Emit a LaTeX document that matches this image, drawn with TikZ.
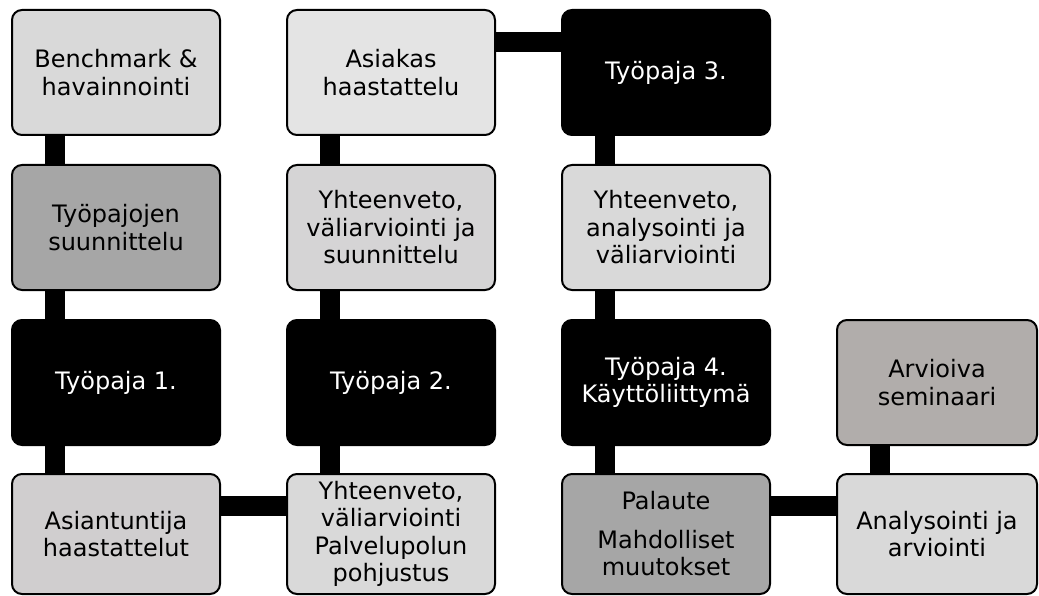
\documentclass[tikz,border=0pt]{standalone}
\usepackage{fontspec}
\setmainfont{DejaVu Sans}
\usetikzlibrary{positioning}
\definecolor{lightgray}{HTML}{D9D9D9}
\definecolor{palegray}{HTML}{E4E4E4}
\definecolor{midgray}{HTML}{A6A6A6}
\definecolor{lilacgray}{HTML}{D5D4D5}
\definecolor{rosegray}{HTML}{D0CECF}
\definecolor{warmgray}{HTML}{B1ADAB}

\begin{document}
\begin{tikzpicture}[x=1pt,y=1pt,
  stage/.style={draw,line width=2pt,rounded corners=10pt,minimum width=208pt,
             minimum height=125pt,align=center,inner sep=0pt,outer sep=0pt,
             font=\fontsize{24}{27.5}\selectfont},
  work/.style={stage,fill=black,text=white},
  link/.style={line width=20pt}]
\useasboundingbox (0,0) rectangle (1039,-596);
\node[stage,fill=lightgray,anchor=north west] (bench) at (12,-10) {Benchmark \&\\havainnointi};
\node[stage,fill=midgray,below=30pt of bench] (plan) {Työpajojen\\suunnittelu};
\node[work,below=30pt of plan] (ws1) {Työpaja 1.};
\node[stage,fill=rosegray,minimum height=120pt,below=29pt of ws1] (expert) {Asiantuntija\\haastattelut};
\node[stage,fill=lightgray,minimum height=120pt,right=67pt of expert] (sum2) {Yhteenveto,\\väliarviointi\\Palvelupolun\\pohjustus};
\node[work,right=67pt of ws1] (ws2) {Työpaja 2.};
\node[stage,fill=lilacgray,right=67pt of plan] (sum1) {Yhteenveto,\\väliarviointi ja\\suunnittelu};
\node[stage,fill=palegray,right=67pt of bench] (client) {Asiakas\\haastattelu};
\node[work,right=67pt of client] (ws3) {Työpaja 3.};
\node[stage,fill=lightgray,right=67pt of sum1] (sum3) {Yhteenveto,\\analysointi ja\\väliarviointi};
\node[work,right=67pt of ws2] (ws4) {Työpaja 4.\\Käyttöliittymä};
\node[stage,fill=midgray,minimum height=120pt,right=67pt of sum2] (feedback) {Palaute\\[11pt]Mahdolliset\\muutokset};
\node[stage,fill=lightgray,minimum height=120pt,minimum width=200pt,right=67pt of feedback] (analysis) {Analysointi ja\\arviointi};
\node[stage,fill=warmgray,minimum width=200pt,above=29pt of analysis] (seminar) {Arvioiva\\seminaari};
% vertical links
\draw[link] ([xshift=43pt]bench.south west)--([xshift=43pt]plan.north west);
\draw[link] ([xshift=43pt]plan.south west)--([xshift=43pt]ws1.north west);
\draw[link] ([xshift=43pt]ws1.south west)--([xshift=43pt]expert.north west);
\draw[link] ([xshift=43pt]sum2.north west)--([xshift=43pt]ws2.south west);
\draw[link] ([xshift=43pt]ws2.north west)--([xshift=43pt]sum1.south west);
\draw[link] ([xshift=43pt]sum1.north west)--([xshift=43pt]client.south west);
\draw[link] ([xshift=43pt]ws3.south west)--([xshift=43pt]sum3.north west);
\draw[link] ([xshift=43pt]sum3.south west)--([xshift=43pt]ws4.north west);
\draw[link] ([xshift=43pt]ws4.south west)--([xshift=43pt]feedback.north west);
\draw[link] ([xshift=43pt]analysis.north west)--([xshift=43pt]seminar.south west);
% horizontal links
\draw[link] ([yshift=-32pt]expert.north east)--([yshift=-32pt]sum2.north west);
\draw[link] ([yshift=-32pt]client.north east)--([yshift=-32pt]ws3.north west);
\draw[link] ([yshift=-32pt]feedback.north east)--([yshift=-32pt]analysis.north west);
\end{tikzpicture}
\end{document}
